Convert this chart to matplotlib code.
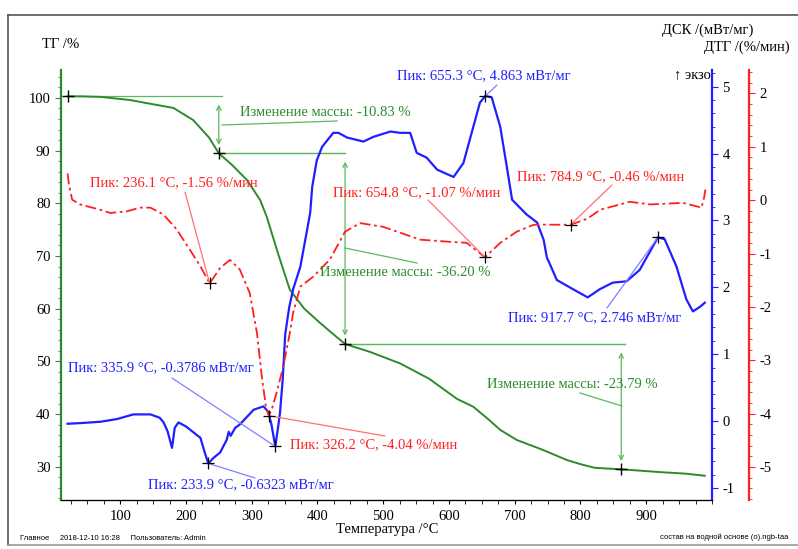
import matplotlib
matplotlib.use("Agg")
import matplotlib.pyplot as plt
from matplotlib.lines import Line2D
from matplotlib.ticker import MultipleLocator

# --- data ---
# TG curve (mass, %)
tg_temp = [20, 40, 70, 115, 141, 181, 211, 235, 250, 270, 293, 313, 323, 340, 358, 380,
           404, 420, 442, 480, 526, 570, 612, 637, 660, 678, 703, 743, 779, 800, 822, 865,
           920, 960, 989]
tg_val = [100.3, 100.3, 100.2, 99.6, 99.0, 98.1, 95.8, 92.5, 89.5, 87.3, 84.4, 80.6, 77.4,
          70.5, 63.6, 60.0, 57.3, 55.6, 53.3, 51.8, 49.6, 46.7, 42.9, 41.4, 39.0, 37.0, 35.1,
          33.2, 31.3, 30.5, 29.8, 29.5, 29.0, 28.7, 28.3]

# DSC curve (mW/mg)
dsc_temp = [20, 40, 70, 95, 120, 146, 160, 166, 172, 178.8, 183, 188.6, 200, 222, 228, 233.9,
            242, 252, 262, 265, 268, 275, 282, 303, 318, 325, 330, 335.9, 340, 343, 347, 351,
            357, 363, 374, 385, 389, 392, 399, 407, 424, 432, 445, 470, 485, 511, 526, 541,
            551, 566, 582, 607, 622, 637, 647, 655.3, 665, 678, 688, 696, 718, 734, 744, 749,
            752, 764, 789, 811, 829, 849, 870, 890, 917.7, 928, 946, 961, 971, 982, 989]
dsc_val = [-0.04, -0.03, -0.01, 0.03, 0.10, 0.10, 0.05, -0.02, -0.15, -0.40, -0.10, -0.02,
           -0.08, -0.25, -0.45, -0.6323, -0.55, -0.47, -0.28, -0.16, -0.22, -0.10, -0.05, 0.17,
           0.22, 0.14, -0.05, -0.3786, -0.10, 0.12, 0.60, 1.30, 1.70, 1.97, 2.31, 2.90, 3.12,
           3.50, 3.90, 4.10, 4.31, 4.31, 4.24, 4.18, 4.25, 4.33, 4.31, 4.31, 4.01, 3.94, 3.76,
           3.65, 3.86, 4.40, 4.76, 4.863, 4.84, 4.40, 3.80, 3.31, 3.09, 2.97, 2.71, 2.44, 2.38,
           2.11, 1.97, 1.85, 1.97, 2.07, 2.09, 2.26, 2.746, 2.72, 2.31, 1.82, 1.64, 1.71, 1.77]

# DTG curve (%/min)
dtg_temp = [20, 22, 27, 39, 70, 85, 110, 130, 146, 166, 186, 206, 222, 236.1, 252, 267, 282,
            297, 308, 316, 322, 326.2, 331, 338, 348, 358, 363, 374, 394, 419, 442, 465, 500,
            526, 556, 601, 627, 654.8, 678, 703, 729, 753, 784.9, 810, 830, 875, 906, 956,
            984, 988, 990]
dtg_val = [0.5, 0.3, 0.01, -0.08, -0.18, -0.24, -0.21, -0.14, -0.14, -0.27, -0.55, -0.93,
           -1.24, -1.56, -1.27, -1.12, -1.30, -1.74, -2.49, -3.37, -3.9, -4.04, -3.9, -3.6,
           -3.12, -2.49, -2.11, -1.62, -1.43, -1.11, -0.59, -0.43, -0.50, -0.61, -0.74, -0.78,
           -0.80, -1.07, -0.80, -0.59, -0.46, -0.46, -0.46, -0.35, -0.18, -0.03, -0.08, -0.05,
           -0.14, 0.05, 0.2]

# mass-step evaluation points and their changes
step_temp = [20, 250, 442, 862]
step_tg = [100.33, 89.5, 53.3, 29.5]
step_change = ["-10.83", "-36.20", "-23.79"]

# peaks
dsc_peak_temp = [655.3, 335.9, 233.9, 917.7]
dsc_peak_val = [4.863, -0.3786, -0.6323, 2.746]
dtg_peak_temp = [236.1, 654.8, 784.9, 326.2]
dtg_peak_val = [-1.56, -1.07, -0.46, -4.04]

GREEN = "#2d8a2d"
GREEN_L = "#5cb85c"
BLUE = "#1f1fff"
BLUE_L = "#8080ff"
RED = "#ff1f1f"
RED_L = "#ff7070"

W, H = 798, 549


def fx(x):
    return x / W


def fy(y):
    return 1 - y / H


plt.rcParams['font.family'] = ['Liberation Serif', 'DejaVu Serif']
plt.rcParams['font.size'] = 10.5
plt.rcParams['axes.unicode_minus'] = False

fig = plt.figure(figsize=(W / 100, H / 100), dpi=100)
ax = fig.add_axes([fx(61), fy(500), fx(712) - fx(61), fy(70) - fy(500)])
ax.patch.set_alpha(0)
ax2 = ax.twinx()
ax3 = ax.twinx()
ax3.spines['right'].set_position(('axes', 1 + 37 / 651))

# curves
ax.plot(tg_temp, tg_val, color=GREEN, lw=1.4, zorder=3)
ax2.plot(dsc_temp, dsc_val, color=BLUE, lw=1.6, zorder=3)
ax3.plot(dtg_temp, dtg_val, color=RED, lw=1.3, linestyle=(0, (6, 2, 1.5, 2)), zorder=3)

ax.set_xlim(10, 1000)
ax.set_ylim(23.7, 105.3)
ax2.set_ylim(-1.18, 5.25)
ax3.set_ylim(-5.62, 2.44)

# spines / ticks
for a in (ax, ax2, ax3):
    a.spines['top'].set_visible(False)
ax.spines['right'].set_visible(False)
ax2.spines['left'].set_visible(False)
ax3.spines['left'].set_visible(False)
ax.spines['left'].set_color(GREEN)
ax.spines['left'].set_linewidth(1.6)
ax.spines['bottom'].set_color('black')
ax2.spines['right'].set_color(BLUE)
ax2.spines['right'].set_linewidth(1.6)
ax3.spines['right'].set_color(RED)
ax3.spines['right'].set_linewidth(1.6)

ax.set_xticks(range(100, 1000, 100))
ax.xaxis.set_minor_locator(MultipleLocator(25))
ax.set_yticks(range(30, 101, 10))
ax.yaxis.set_minor_locator(MultipleLocator(2))
ax.tick_params(axis='x', which='both', direction='out', length=3, labelsize=10.5, pad=4)
ax.tick_params(axis='y', which='major', direction='out', length=4, color=GREEN, labelsize=10.5)
ax.tick_params(axis='y', which='minor', direction='out', length=2, color=GREEN)

ax2.set_yticks(range(-1, 6))
ax2.yaxis.set_minor_locator(MultipleLocator(0.2))
ax2.tick_params(axis='y', which='major', direction='out', length=4, color=BLUE, labelsize=10.5)
ax2.tick_params(axis='y', which='minor', direction='out', length=2, color=BLUE)

ax3.set_yticks(range(-5, 3))
ax3.yaxis.set_minor_locator(MultipleLocator(0.2))
ax3.tick_params(axis='y', which='major', direction='out', length=4, color=RED, labelsize=10.5)
ax3.tick_params(axis='y', which='minor', direction='out', length=2, color=RED)

# mass-step annotations
ax.plot(step_temp, step_tg, '+', color='black', ms=8, mew=1.0, zorder=5)
step_line_end = [255, 442, 867]
for i in range(3):
    ax.plot([step_temp[i], step_line_end[i]], [step_tg[i], step_tg[i]], color=GREEN_L, lw=0.9)
    xa = step_temp[i + 1]
    ax.annotate("", xy=(xa, step_tg[i + 1]), xytext=(xa, step_tg[i]),
                arrowprops=dict(arrowstyle='<->', color=GREEN_L, lw=0.9,
                                shrinkA=6, shrinkB=6, mutation_scale=8))
ax.plot([250, 442], [89.5, 89.5], color=GREEN_L, lw=0.9)
ax.plot([442, 867], [53.3, 53.3], color=GREEN_L, lw=0.9)

step_text_pos = [(240, 112), (320, 272), (487, 385)]
step_leader = [((222, 125), (337, 121)), ((345, 248), (417, 263)), ((580, 393), (622, 406))]
for i in range(3):
    tx, ty = step_text_pos[i]
    fig.text(fx(tx), fy(ty), "Изменение массы: " + step_change[i] + " %", color=GREEN,
             ha='left', va='center')
    (x0, y0), (x1, y1) = step_leader[i]
    fig.add_artist(Line2D([fx(x0), fx(x1)], [fy(y0), fy(y1)], color=GREEN_L, lw=0.9))

# DSC peaks
ax2.plot(dsc_peak_temp, dsc_peak_val, '+', color='black', ms=8, mew=0.9, zorder=5)
dsc_text_pos = [(397, 76), (68, 368), (148, 485), (508, 318)]
dsc_leader = [(497, 85), (172, 378), (255, 478), (607, 308)]
for t, v, (tx, ty), (lx, ly) in zip(dsc_peak_temp, dsc_peak_val, dsc_text_pos, dsc_leader):
    fig.text(fx(tx), fy(ty), f"Пик: {t:.1f} °C, {v} мВт/мг", color=BLUE, ha='left', va='center')
    ax2.annotate("", xy=(t, v), xytext=(fx(lx), fy(ly)), textcoords='figure fraction',
                 arrowprops=dict(arrowstyle='-', color=BLUE_L, lw=0.9, shrinkA=0, shrinkB=0))

# DTG peaks
ax3.plot(dtg_peak_temp, dtg_peak_val, '+', color='black', ms=8, mew=0.9, zorder=5)
dtg_text_pos = [(90, 183), (333, 193), (517, 177), (290, 445)]
dtg_leader = [(185, 192), (428, 200), (612, 185), (385, 436)]
for t, v, (tx, ty), (lx, ly) in zip(dtg_peak_temp, dtg_peak_val, dtg_text_pos, dtg_leader):
    fig.text(fx(tx), fy(ty), f"Пик: {t:.1f} °C, {v:.2f} %/мин", color=RED, ha='left', va='center')
    ax3.annotate("", xy=(t, v), xytext=(fx(lx), fy(ly)), textcoords='figure fraction',
                 arrowprops=dict(arrowstyle='-', color=RED_L, lw=0.9, shrinkA=0, shrinkB=0))

# axis titles
fig.text(fx(42), fy(45), "ТГ /%", ha='left', va='center')
fig.text(fx(753), fy(30), "ДСК /(мВт/мг)", ha='right', va='center')
fig.text(fx(790), fy(47), "ДТГ /(%/мин)", ha='right', va='center')
fig.text(fx(711), fy(75), "↑ экзо", ha='right', va='center')
fig.text(fx(387), fy(529), "Температура /°C", ha='center', va='center')

# footer
fig.text(fx(20), fy(538), "Главное     2018-12-10 16:28     Пользователь: Admin",
         ha='left', va='center', fontsize=5.5, family='Liberation Sans')
fig.text(fx(788), fy(537), "состав на водной основе (о).ngb-taa",
         ha='right', va='center', fontsize=5.5, family='Liberation Sans')

# frame
fig.add_artist(Line2D([fx(8), 1], [fy(15), fy(15)], color='#555555', lw=1.2))
fig.add_artist(Line2D([fx(8), fx(8)], [fy(15), fy(545)], color='#555555', lw=1.2))
fig.add_artist(Line2D([fx(8), 1], [fy(545), fy(545)], color='#999999', lw=1.2))

fig.savefig("out.png", dpi=100)
